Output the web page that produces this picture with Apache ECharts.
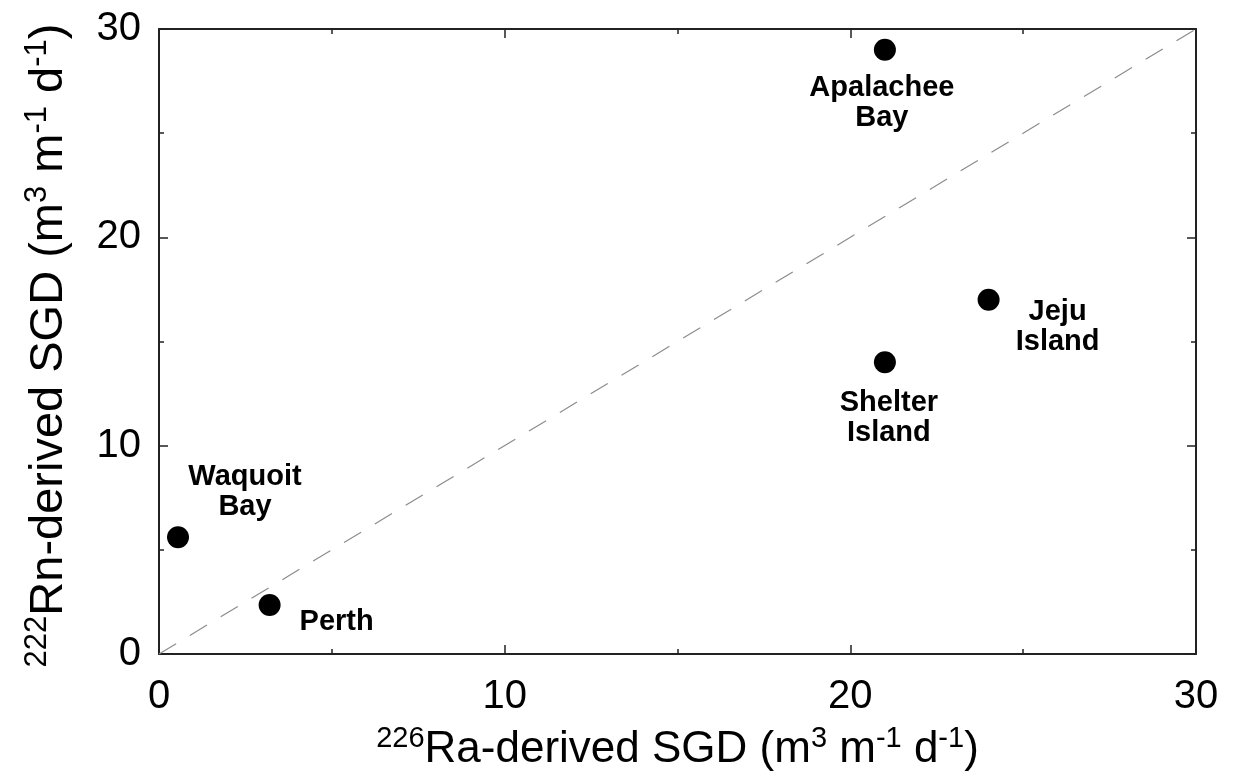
<!DOCTYPE html>
<html>
<head>
<meta charset="utf-8">
<script src="https://cdn.jsdelivr.net/npm/echarts@6/dist/echarts.min.js"></script>
<style>
  html, body { margin: 0; padding: 0; background: #fff; }
  #chart { width: 1233px; height: 784px; }
</style>
</head>
<body>
<div id="chart"></div>
<script>
  // 数据: 站点名称, 226Ra 推算的 SGD (x), 222Rn 推算的 SGD (y)
  const sites = ['Waquoit\nBay', 'Perth', 'Apalachee\nBay', 'Jeju\nIsland', 'Shelter\nIsland']
  const raSGD = [0.55, 3.2, 21.0, 24.0, 21.0]
  const rnSGD = [5.6, 2.35, 29.0, 17.0, 14.0]
  // 1:1 参考线
  const oneToOne = [[0, 0], [30, 30]]
  const axisMin = 0
  const axisMax = 30

  // 标签相对圆点的偏移 (像素)
  const labelOffset = [[67, -45], [67, 17], [-3, 53], [69, 27], [4, 56]]

  const font = "'Liberation Sans', Arial, Helvetica, sans-serif"
  const axisColor = '#222'

  // 轴名称的上标 (x、y 两个方向拉伸不同, 所以字号分开)
  const makeRich = (size, supSize) => ({
    n: { fontSize: size, lineHeight: size + 8, fontFamily: font, color: '#000' },
    sup: { fontSize: supSize, lineHeight: supSize - 3, verticalAlign: 'top', fontFamily: font, color: '#000' }
  })

  // 底部/左侧主轴 与 顶部/右侧镜像轴 共用的设置
  const baseAxis = (extra) => Object.assign({
    type: 'value',
    min: axisMin,
    max: axisMax,
    interval: 10,
    axisLine: { show: true, onZero: false, lineStyle: { color: axisColor, width: 2 } },
    axisTick: { show: true, inside: true, length: 9, lineStyle: { color: axisColor, width: 1.5 } },
    minorTick: { show: true, splitNumber: 2, length: 5, lineStyle: { color: axisColor, width: 1.5 } },
    splitLine: { show: false },
    axisLabel: { show: false }
  }, extra)

  const labelFont = { fontSize: 40, color: '#000', fontFamily: font }

  let myChart = echarts.init(document.getElementById('chart'), null, { renderer: 'canvas' })

  let points = raSGD.map((x, i) => ({
    value: [x, rnSGD[i]],
    name: sites[i],
    label: { offset: labelOffset[i] }
  }))

  let option = {
    animation: false,
    backgroundColor: '#fff',
    grid: { left: 159, right: 37, top: 29, bottom: 130, containLabel: false, outerBoundsMode: 'none' },
    xAxis: [
      baseAxis({
        position: 'bottom',
        axisLabel: Object.assign({ show: true, margin: 23 }, labelFont),
        name: '{sup|226}{n|Ra-derived SGD (m}{sup|3}{n| m}{sup|-1}{n| d}{sup|-1}{n|)}',
        nameLocation: 'middle',
        nameGap: 70,
        nameTextStyle: { rich: makeRich(44, 29) }
      }),
      baseAxis({ position: 'top' })
    ],
    yAxis: [
      baseAxis({
        position: 'left',
        axisLabel: Object.assign({ show: true, margin: 18 }, labelFont),
        name: '{sup|222}{n|Rn-derived SGD (m}{sup|3}{n| m}{sup|-1}{n| d}{sup|-1}{n|)}',
        nameLocation: 'middle',
        nameGap: 82,
        nameRotate: 90,
        nameTextStyle: { rich: makeRich(47, 31), padding: [0, 8, 0, 0] }
      }),
      baseAxis({ position: 'right' })
    ],
    series: [
      {
        type: 'line',
        data: oneToOne,
        showSymbol: false,
        silent: true,
        lineStyle: { color: '#8c8c8c', width: 1.2, type: [20, 16] },
        z: 1
      },
      {
        type: 'scatter',
        data: points,
        symbol: 'circle',
        symbolSize: 22,
        itemStyle: { color: '#000', opacity: 1 },
        label: {
          show: true,
          position: 'inside',
          formatter: (p) => p.name,
          align: 'center',
          verticalAlign: 'middle',
          fontSize: 29,
          lineHeight: 30,
          fontWeight: 'bold',
          fontFamily: font,
          color: '#000'
        },
        z: 3
      }
    ]
  }
  myChart.setOption(option)
</script>
</body>
</html>
